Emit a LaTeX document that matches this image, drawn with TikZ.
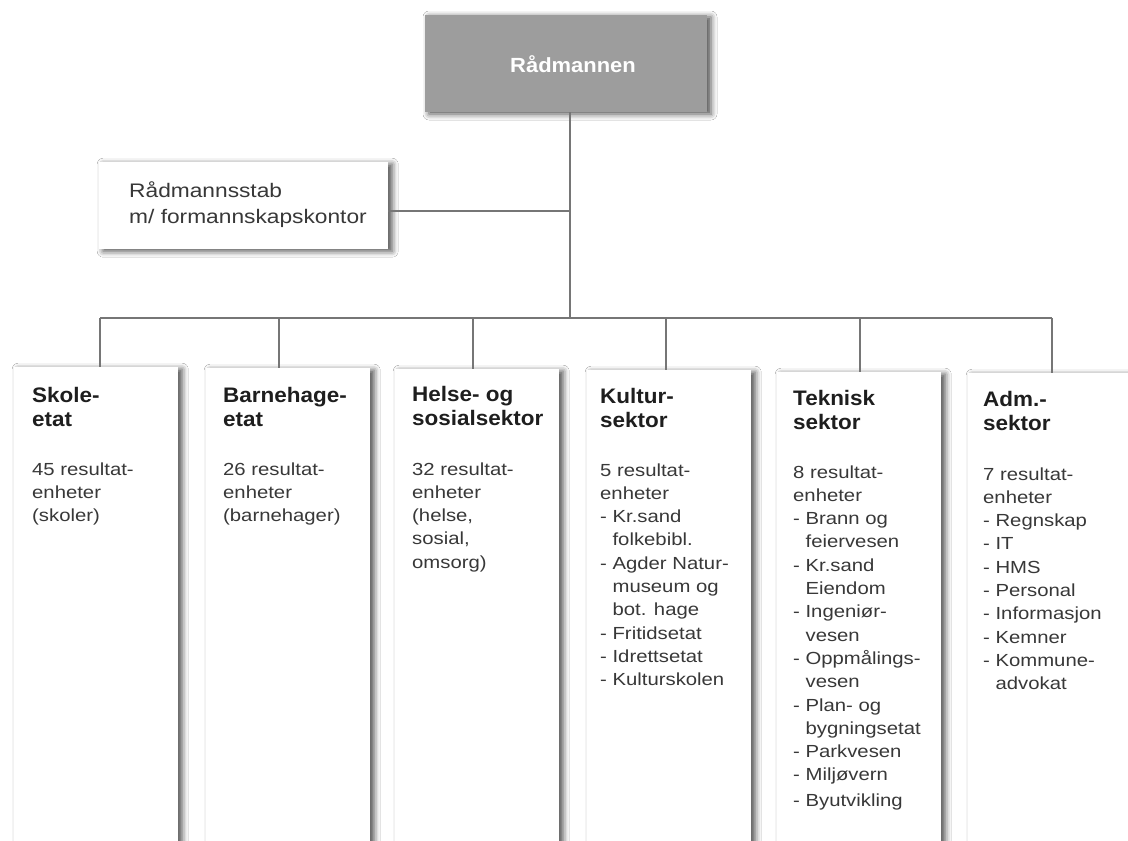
\documentclass[tikz,border=0pt]{standalone}
\usepackage{fontspec}
\setmainfont{Liberation Sans}
\newfontfamily\bodyfont[FakeStretch=1.16]{Liberation Sans}
\newfontfamily\headfont[FakeStretch=1.07]{Liberation Sans}
\usetikzlibrary{calc,shadows.blur}
\definecolor{ink}{HTML}{1E1E1E}
\definecolor{inkgray}{HTML}{383838}
\definecolor{linegray}{HTML}{767676}
\definecolor{chiefgray}{HTML}{9D9D9D}
\newcommand{\ind}{\phantom{- }}
\newcommand{\headlines}[1]{\parbox[t]{160pt}{\raggedright\headfont\bfseries\fontsize{21}{24}\selectfont #1}}
\newcommand{\bodylines}[1]{\parbox[t]{160pt}{\raggedright\bodyfont\fontsize{17.5}{23.3}\selectfont #1}}
\tikzset{
  softshadow/.style={blur shadow={shadow xshift=4pt,shadow yshift=-2pt,shadow blur radius=6pt,shadow opacity=70}},
  unitbox/.style={fill=white,minimum width=164pt,minimum height=490pt,inner sep=0,anchor=north west,softshadow},
  headtext/.style={anchor=base west,inner sep=0,text=ink},
  bodytext/.style={anchor=base west,inner sep=0,text=inkgray},
  link/.style={draw=linegray,line width=1.5pt}
}

\begin{document}
\begin{tikzpicture}[x=1pt,y=-1pt]
  \fill[white] (0,0) rectangle (1128,841);
  \useasboundingbox (0,0) rectangle (1128,841);
  % top of the organisation
  \node[fill=chiefgray,minimum width=282pt,minimum height=97pt,inner sep=0,softshadow]
        (chief) at (566,63.5) {};
  \node[text=white,inner sep=0,font={\headfont\bfseries\fontsize{20.5}{22}\selectfont}]
        (chieflbl) at (573,64) {Rådmannen};
  \node[fill=white,minimum width=289pt,minimum height=87pt,inner sep=0,anchor=north west,softshadow]
        (staff) at (99,162) {};
  \node[bodytext] (stafflbl) at (129,197)
        {\parbox[t]{260pt}{\bodyfont\fontsize{19.6}{26.7}\selectfont Rådmannsstab\\m/ formannskapskontor}};
  % sector boxes
  \node[unitbox] (skole) at (14,367) {};
  \node[unitbox] (barne) at (206,368) {};
  \node[unitbox] (helse) at (395,369) {};
  \node[unitbox] (kultur) at (587,370) {};
  \node[unitbox] (teknisk) at (777,372) {};
  \node[unitbox] (adm) at (968,373) {};
  % headings
  \node[headtext] (skolehead) at (32,402) {\headlines{Skole-\\etat}};
  \node[headtext] (barnehead) at (223,402) {\headlines{Barnehage-\\etat}};
  \node[headtext] (helsehead) at (412,401) {\headlines{Helse- og\\sosialsektor}};
  \node[headtext] (kulturhead) at (600,403) {\headlines{Kultur-\\sektor}};
  \node[headtext] (teknhead) at (793,405) {\headlines{Teknisk\\sektor}};
  \node[headtext] (admhead) at (983,406) {\headlines{Adm.-\\sektor}};
  % result units
  \node[bodytext] (skolebody) at (32,475) {\bodylines{45 resultat-\\enheter\\(skoler)}};
  \node[bodytext] (barnebody) at (223,475) {\bodylines{26 resultat-\\enheter\\(barnehager)}};
  \node[bodytext] (helsebody) at (412,475) {\bodylines{32 resultat-\\enheter\\(helse,\\sosial,\\omsorg)}};
  \node[bodytext] (kulturbody) at (600,476) {\bodylines{5 resultat-\\enheter\\- Kr.sand\\\ind folkebibl.\\- Agder Natur-\\\ind museum og\\\ind bot. hage\\- Fritidsetat\\- Idrettsetat\\- Kulturskolen}};
  \node[bodytext] (teknbody) at (793,478) {\bodylines{8 resultat-\\enheter\\- Brann og\\\ind feiervesen\\- Kr.sand\\\ind Eiendom\\- Ingeniør-\\\ind vesen\\- Oppmålings-\\\ind vesen\\- Plan- og\\\ind bygningsetat\\- Parkvesen\\- Miljøvern\\[2pt]- Byutvikling}};
  \node[bodytext] (admbody) at (983,480) {\bodylines{7 resultat-\\enheter\\- Regnskap\\- IT\\- HMS\\- Personal\\- Informasjon\\- Kemner\\- Kommune-\\\ind advokat}};
  % connectors
  \coordinate (bus) at (570,318);
  \coordinate (staffjoin) at ([yshift=-5.5pt]staff.east);
  \draw[link] (chief.south -| bus) -- (bus);
  \draw[link] (staffjoin) -- (staffjoin -| bus);
  \draw[link] ([xshift=4pt]skole.north |- bus) -- ([xshift=2pt]adm.north |- bus);
  \foreach \s/\dx in {skole/4,barne/-9,helse/-4,kultur/-3,teknisk/1,adm/2}
    \draw[link] ([xshift=\dx pt]\s.north |- bus) -- ([xshift=\dx pt]\s.north);
\end{tikzpicture}
\end{document}
